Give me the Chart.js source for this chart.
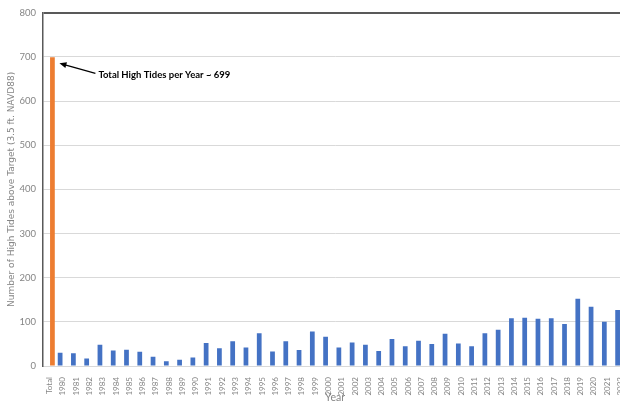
<!DOCTYPE html>
<html>
<head>
<meta charset="utf-8">
<script src="https://cdn.jsdelivr.net/npm/chart.js@4"></script>
<style>
  html, body { margin: 0; padding: 0; overflow: hidden; background: #fff; }
  #wrap { width: 633px; height: 404px; }
</style>
</head>
<body>
<div id="wrap"><canvas id="tide-chart"></canvas></div>
<script>
// data
const categories = ["Total", "1980", "1981", "1982", "1983", "1984", "1985", "1986", "1987", "1988", "1989",
  "1990", "1991", "1992", "1993", "1994", "1995", "1996", "1997", "1998", "1999",
  "2000", "2001", "2002", "2003", "2004", "2005", "2006", "2007", "2008", "2009",
  "2010", "2011", "2012", "2013", "2014", "2015", "2016", "2017", "2018", "2019",
  "2020", "2021", "2022"];
const tidesPerYear = [30, 29, 17, 48, 35, 37, 32, 21, 11, 14,
  19, 52, 40, 56, 42, 74, 33, 56, 36, 78,
  66, 42, 53, 48, 34, 61, 45, 57, 50, 73,
  51, 45, 74, 82, 108, 109, 107, 108, 95, 152,
  134, 100, 127];
const totalTides = 699;
const yTicks = [0, 100, 200, 300, 400, 500, 600, 700, 800];
const calloutText = "Total High Tides per Year ~ " + totalTides;

const grey = "#858585";

// arrow + label pointing at the Total bar
const callout = {
  id: "callout",
  afterDatasetsDraw(chart) {
    const bar = chart.getDatasetMeta(1).data[0];
    const ctx = chart.ctx;
    const tipX = bar.x + 7, tipY = bar.y + 6;
    const tailX = tipX + 36, tailY = tipY + 10;
    const ang = Math.atan2(tipY - tailY, tipX - tailX);
    ctx.save();
    ctx.strokeStyle = "#000";
    ctx.fillStyle = "#000";
    ctx.lineWidth = 1.2;
    ctx.beginPath();
    ctx.moveTo(tailX, tailY);
    ctx.lineTo(tipX - 4 * Math.cos(ang), tipY - 4 * Math.sin(ang));
    ctx.stroke();
    ctx.beginPath();
    ctx.moveTo(tipX, tipY);
    ctx.lineTo(tipX - 7 * Math.cos(ang) + 3 * Math.sin(ang), tipY - 7 * Math.sin(ang) - 3 * Math.cos(ang));
    ctx.lineTo(tipX - 7 * Math.cos(ang) - 3 * Math.sin(ang), tipY - 7 * Math.sin(ang) + 3 * Math.cos(ang));
    ctx.closePath();
    ctx.fill();
    ctx.font = "bold 9.5px Lato";
    ctx.textBaseline = "middle";
    ctx.fillText(calloutText, tailX + 3, tailY + 2, 137);
    ctx.restore();
  }
};

new Chart(document.getElementById("tide-chart"), {
  type: "bar",
  data: {
    labels: categories,
    datasets: [
      {
        label: "Per year",
        backgroundColor: "#4472c4",
        data: [null].concat(tidesPerYear)
      },
      {
        label: "Total",
        backgroundColor: "#ed7d31",
        data: categories.map((c, i) => i === 0 ? totalTides : null)
      }
    ]
  },
  options: {
    responsive: true,
    maintainAspectRatio: false,
    animation: false,
    layout: { padding: { top: 11, right: 0, left: 0, bottom: 0 } },
    categoryPercentage: 0.84,
    barPercentage: 0.85,
    plugins: {
      legend: { display: false },
      tooltip: { enabled: false }
    },
    scales: {
      x: {
        grid: { display: false },
        border: { color: "#d9d9d9", width: 1 },
        ticks: {
          autoSkip: false,
          maxRotation: 90,
          minRotation: 90,
          padding: 3,
          color: grey,
          font: { family: "Lato", size: 8 }
        },
        title: {
          display: true,
          text: "Year",
          color: grey,
          padding: { top: 0, bottom: 0 },
          font: { family: "Lato", size: 10.5 }
        },
        afterFit(scale) { scale.height = 38; }
      },
      y: {
        min: yTicks[0],
        max: yTicks[yTicks.length - 1],
        ticks: {
          stepSize: 20,
          padding: 7,
          color: grey,
          font: { family: "Lato", size: 9.5 },
          callback: v => yTicks.includes(v) ? v : null
        },
        grid: {
          drawTicks: false,
          color: c => c.tick.value === 800 ? "#595959" : (c.tick.value % 100 === 0 ? "#d9d9d9" : "#f2f2f2"),
          lineWidth: c => c.tick.value === 800 ? 2 : 1
        },
        border: { color: "#595959", width: 1.5 },
        title: {
          display: true,
          text: "Number of High Tides above Target (3.5 ft. NAVD88)",
          color: grey,
          padding: { top: 6, bottom: 0 },
          font: { family: "DejaVu Sans", size: 9 }
        },
        afterFit(scale) { scale.width = 43; }
      }
    }
  },
  plugins: [callout]
});
</script>
</body>
</html>
